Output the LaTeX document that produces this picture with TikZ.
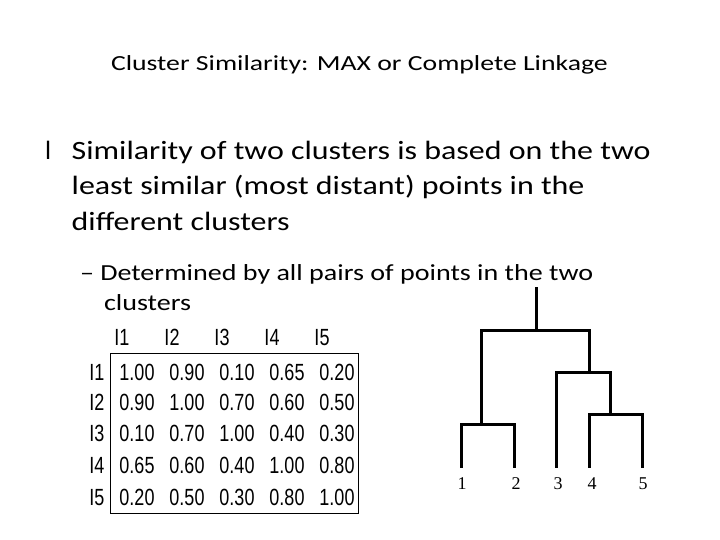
\documentclass[tikz,border=0pt]{standalone}
\usepackage{fontspec}
\usepackage{graphicx}
\setmainfont{Carlito}
\newfontfamily\tabfont{Liberation Sans}
\newfontfamily\leaffont{Liberation Serif}
\begin{document}
\begin{tikzpicture}[x=1pt,y=-1pt,
  txt/.style={anchor=base west,inner sep=0pt,outer sep=0pt},
  cell/.style={anchor=base,inner sep=0pt,font=\tabfont\fontsize{18}{18}\selectfont},
  leaf/.style={anchor=base,inner sep=0pt,font=\leaffont\fontsize{18}{18}\selectfont},
  dend/.style={line width=3pt,line cap=rect}]
\useasboundingbox (0,0) rectangle (720,540);
\fill[white] (0,0) rectangle (720,540);
% title
\node[txt,font=\fontsize{21.5}{24}\selectfont] (title) at (111,70.7) {\scalebox{1.29}[1]{Cluster Similarity: MAX or Complete Linkage}};
% bullet text
\node[txt,font=\fontsize{26.4}{30}\selectfont] (bul) at (45,160) {l};
\node[txt,font=\fontsize{26.4}{30}\selectfont] (l1) at (71.7,160) {\scalebox{1.21}[1]{Similarity of two clusters is based on the two}};
\node[txt,font=\fontsize{26.4}{30}\selectfont] (l2) at (71.7,195) {\scalebox{1.21}[1]{least similar (most distant) points in the}};
\node[txt,font=\fontsize{26.4}{30}\selectfont] (l3) at (71.7,230) {\scalebox{1.21}[1]{different clusters}};
\node[txt,font=\fontsize{23}{28}\selectfont] (s1) at (80,280) {\scalebox{1.22}[1]{– Determined by all pairs of points in the two}};
\node[txt,font=\fontsize{23}{28}\selectfont] (s2) at (104,310) {\scalebox{1.22}[1]{clusters}};
% table
\draw[line width=0.8pt] (110,353) rectangle (358,513);
\foreach \c/\x in {1/122,2/172,3/222,4/272,5/322}{
  \node[cell] (h\c) at (\x,345) {\scalebox{1}[1.3]{I\c}};
}
\foreach \r/\y in {1/380,2/410,3/441,4/473,5/505}{
  \node[cell] (r\r) at (97,\y) {\scalebox{1}[1.3]{I\r}};
}
\foreach \r/\y/\a/\b/\cc/\d/\e in {
 1/380/1.00/0.90/0.10/0.65/0.20,
 2/410/0.90/1.00/0.70/0.60/0.50,
 3/441/0.10/0.70/1.00/0.40/0.30,
 4/473/0.65/0.60/0.40/1.00/0.80,
 5/505/0.20/0.50/0.30/0.80/1.00}{
  \node[cell] (v\r1) at (137,\y) {\scalebox{1}[1.3]{\a}};
  \node[cell] (v\r2) at (187,\y) {\scalebox{1}[1.3]{\b}};
  \node[cell] (v\r3) at (237,\y) {\scalebox{1}[1.3]{\cc}};
  \node[cell] (v\r4) at (287,\y) {\scalebox{1}[1.3]{\d}};
  \node[cell] (v\r5) at (337,\y) {\scalebox{1}[1.3]{\e}};
}
% dendrogram
\coordinate (root) at (536.7,288);
\coordinate (top) at (536.7,330);
\coordinate (a1) at (481.7,330);
\coordinate (a2) at (589,330);
\coordinate (b) at (481.7,424);
\coordinate (b1) at (461,424);
\coordinate (b2) at (514,424);
\coordinate (c) at (589,372);
\coordinate (c1) at (556.7,372);
\coordinate (c2) at (610,372);
\coordinate (d) at (610,414);
\coordinate (d1) at (589,414);
\coordinate (d2) at (642.3,414);
\coordinate (e1) at (461,466);
\coordinate (e2) at (514,466);
\coordinate (e3) at (556.7,466);
\coordinate (e4) at (589,466);
\coordinate (e5) at (642.3,466);
\draw[dend] (root) -- (top);
\draw[dend] (b) -- (a1) -- (a2) -- (c);
\draw[dend] (e1) -- (b1) -- (b2) -- (e2);
\draw[dend] (e3) -- (c1) -- (c2) -- (d);
\draw[dend] (e4) -- (d1) -- (d2) -- (e5);
\node[leaf] (n1) at (462,489) {1};
\node[leaf] (n2) at (516,489) {2};
\node[leaf] (n3) at (558,489) {3};
\node[leaf] (n4) at (592,489) {4};
\node[leaf] (n5) at (643,489) {5};
\end{tikzpicture}
\end{document}
